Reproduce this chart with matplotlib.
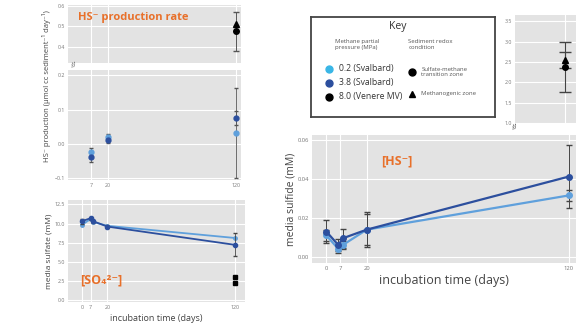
import matplotlib
matplotlib.use('Agg')
import matplotlib.pyplot as plt

plt.rcParams['font.family'] = ['Open Sans', 'DejaVu Sans']

LIGHT = '#5fa0dc'
DARK = '#2c4f9e'
CYAN = '#39b6e6'
ORANGE = '#e8702a'
BG = '#e3e3e3'
TICKC = '#777777'

# HS- production rate (left top)
prod_days = [7, 20, 120]
prod_light = [-0.023, 0.020, 0.032]
prod_light_err = [0.012, 0.008, 0.13]
prod_dark = [-0.037, 0.012, 0.075]
prod_dark_err = [0.014, 0.010, 0.02]
prod_black_day = [120]
prod_black_tri = [0.51]
prod_black_circ = [0.475]
prod_black_err = [0.095]

# media sulfate (left bottom)
so4_days = [0, 7, 9, 20, 120]
so4_light = [9.8, 10.6, 10.2, 9.7, 8.1]
so4_dark = [10.3, 10.7, 10.3, 9.6, 7.2]
so4_dark_err = [0.3, 0.2, 0.2, 0.2, 1.5]
so4_black_day = [120]
so4_black_a = [3.0]
so4_black_b = [2.2]

# media sulfide (right)
hs_days = [0, 6, 8, 20, 120]
hs_dark = [0.013, 0.006, 0.0095, 0.014, 0.0413]
hs_dark_err = [0.006, 0.003, 0.005, 0.009, 0.016]
hs_light = [0.011, 0.004, 0.006, 0.014, 0.0316]
hs_light_err = [0.003, 0.002, 0.002, 0.008, 0.003]
hs_black_day = [120]
hs_black_tri = [2.55]
hs_black_tri_err = [0.2]
hs_black_circ = [2.375]
hs_black_circ_err = [0.625]


def style(ax, xt, yt, ylabels=None, xlabels=True, fs=3.8):
    ax.set_facecolor(BG)
    for s in ax.spines.values():
        s.set_visible(False)
    ax.set_xticks(xt)
    ax.set_yticks(yt)
    if ylabels is not None:
        ax.set_yticklabels(ylabels)
    if not xlabels:
        ax.set_xticklabels([])
    ax.tick_params(length=0, labelsize=fs, colors=TICKC, pad=2)
    ax.grid(True, color='white', lw=0.8)
    ax.set_axisbelow(True)


fig = plt.figure(figsize=(5.76, 3.24), dpi=100)

# --- HS- production upper (broken axis)
ax1 = fig.add_axes([0.118, 0.806, 0.300, 0.179])
ax1.set_xlim(-10.8, 123.5)
ax1.set_ylim(0.32, 0.605)
style(ax1, [7, 20, 120], [0.4, 0.5, 0.6], xlabels=False)
ax1.errorbar(prod_black_day, prod_black_circ, yerr=prod_black_err, fmt='o', color='black',
             ms=4, ecolor='#555555', elinewidth=0.7, capsize=2)
ax1.plot(prod_black_day, prod_black_tri, '^', color='black', ms=4)
ax1.text(0.06, 0.78, 'HS\u207b production rate', transform=ax1.transAxes, color=ORANGE,
         fontsize=8, fontweight='bold', va='center')

# --- HS- production lower
ax2 = fig.add_axes([0.118, 0.444, 0.300, 0.340])
ax2.set_xlim(-10.8, 123.5)
ax2.set_ylim(-0.105, 0.215)
style(ax2, [7, 20, 120], [-0.1, 0.0, 0.1, 0.2])
ax2.errorbar(prod_days, prod_light, yerr=prod_light_err, fmt='o', color=LIGHT, ms=3.5,
             ecolor='#555555', elinewidth=0.6, capsize=1.5)
ax2.errorbar(prod_days, prod_dark, yerr=prod_dark_err, fmt='o', color=DARK, ms=3.5,
             ecolor='#555555', elinewidth=0.6, capsize=1.5)
ax2.set_ylabel('HS\u207b production (\u00b5mol cc sediment\u207b\u00b9 day\u207b\u00b9)', fontsize=5.5,
               color='#444444')
ax2.yaxis.set_label_coords(-0.1, 0.85)
fig.text(0.122, 0.797, '//', fontsize=6, color='#555555', rotation=20, va='center')

# --- media sulfate
ax3 = fig.add_axes([0.118, 0.068, 0.307, 0.315])
ax3.set_xlim(-10.8, 127.7)
ax3.set_ylim(-0.3, 13.1)
style(ax3, [0, 7, 20, 120], [0.0, 2.5, 5.0, 7.5, 10.0, 12.5])
ax3.plot(so4_days, so4_light, '-o', color=LIGHT, lw=1.3, ms=2.5)
ax3.errorbar(so4_days, so4_dark, yerr=so4_dark_err, fmt='-o', color=DARK, lw=1.3, ms=3,
             ecolor='#444444', elinewidth=0.6, capsize=1.5)
ax3.plot(so4_black_day, so4_black_a, 's', color='black', ms=2.8)
ax3.plot(so4_black_day, so4_black_b, 's', color='black', ms=2.8)
ax3.set_ylabel('media sulfate (mM)', fontsize=6, color='#444444')
ax3.yaxis.set_label_coords(-0.085, 0.5)
ax3.set_xlabel('incubation time (days)', fontsize=6.5, color='#444444', labelpad=3)
ax3.text(0.07, 0.22, '[SO\u2084\u00b2\u207b]', transform=ax3.transAxes, color=ORANGE,
         fontsize=9, fontweight='bold', va='center')

# --- media sulfide
ax4 = fig.add_axes([0.542, 0.188, 0.458, 0.395])
ax4.set_xlim(-7, 123.5)
ax4.set_ylim(-0.0032, 0.0626)
style(ax4, [0, 7, 20, 120], [0.00, 0.02, 0.04, 0.06], ylabels=['0.00', '0.02', '0.04', '0.06'], fs=4.2)
ax4.errorbar(hs_days, hs_light, yerr=hs_light_err, fmt='-o', color=LIGHT, lw=1.6, ms=4,
             ecolor='#444444', elinewidth=0.7, capsize=2)
ax4.errorbar(hs_days, hs_dark, yerr=hs_dark_err, fmt='-o', color=DARK, lw=1.6, ms=4,
             ecolor='#444444', elinewidth=0.7, capsize=2)
ax4.set_ylabel('media sulfide (mM)', fontsize=7.5, color='#444444')
ax4.yaxis.set_label_coords(-0.06, 0.5)
ax4.set_xlabel('incubation time (days)', fontsize=9, color='#444444', labelpad=2)
ax4.text(0.26, 0.8, '[HS\u207b]', transform=ax4.transAxes, color=ORANGE,
         fontsize=9, fontweight='bold', va='center')

# --- inset upper (broken axis, 8.0 MPa)
ax5 = fig.add_axes([0.894, 0.617, 0.106, 0.336])
ax5.set_xlim(95.3, 125.4)
ax5.set_ylim(0.97, 3.65)
style(ax5, [120], [1.0, 1.5, 2.0, 2.5, 3.0, 3.5], xlabels=False)
ax5.errorbar(hs_black_day, hs_black_circ, yerr=hs_black_circ_err, fmt='o', color='black',
             ms=4, ecolor='#444444', elinewidth=0.8, capsize=4)
ax5.errorbar(hs_black_day, hs_black_tri, yerr=hs_black_tri_err, fmt='^', color='black',
             ms=4, ecolor='#444444', elinewidth=0.8, capsize=4)
fig.text(0.888, 0.605, '//', fontsize=6, color='#333333', rotation=20, va='center')

# --- key box
axk = fig.add_axes([0.540, 0.639, 0.319, 0.309])
axk.set_xlim(0, 1)
axk.set_ylim(0, 1)
axk.set_xticks([])
axk.set_yticks([])
for s in axk.spines.values():
    s.set_linewidth(1.3)
    s.set_color('#444444')
axk.text(0.47, 0.9, 'Key', fontsize=7.5, ha='center', va='center', color='#333333')
axk.text(0.13, 0.72, 'Methane partial\npressure (MPa)', fontsize=4.3, va='center',
         color='#555555', linespacing=1.2)
axk.text(0.53, 0.72, 'Sediment redox\ncondition', fontsize=4.3, va='center',
         color='#555555', linespacing=1.2)
key_colors = [CYAN, DARK, 'black']
key_labels = ['0.2 (Svalbard)', '3.8 (Svalbard)', '8.0 (Venere MV)']
key_y = [0.48, 0.34, 0.20]
for c, lab, y in zip(key_colors, key_labels, key_y):
    axk.plot([0.1], [y], 'o', color=c, ms=5)
    axk.text(0.15, y, lab, fontsize=6.2, va='center', color='#333333')
axk.plot([0.55], [0.45], 'o', color='black', ms=5)
axk.text(0.6, 0.45, 'Sulfate-methane\ntransition zone', fontsize=4.3, va='center',
         color='#555555', linespacing=1.2)
axk.plot([0.55], [0.23], '^', color='black', ms=5)
axk.text(0.6, 0.23, 'Methanogenic zone', fontsize=4.3, va='center', color='#555555')

fig.savefig('out.png', dpi=100)
